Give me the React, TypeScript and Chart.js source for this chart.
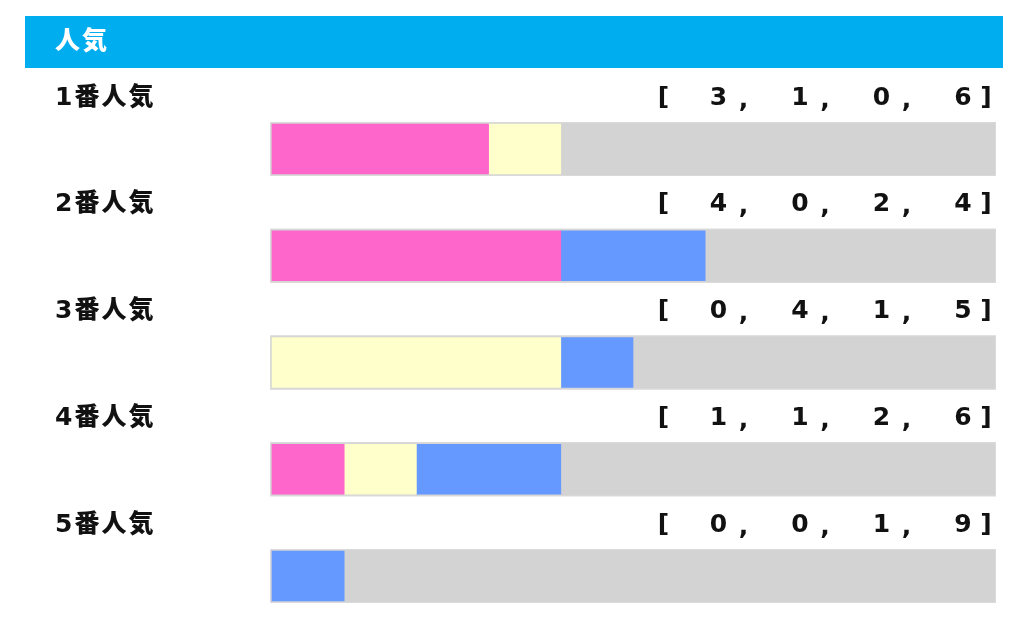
import React, { useEffect, useRef } from "react";
import { Chart, registerables } from "chart.js";

Chart.register(...registerables);

const headerTitle = "人気";
const rowLabels = ["1番人気", "2番人気", "3番人気", "4番人気", "5番人気"];
const firstPlace = [3, 4, 0, 1, 0];
const secondPlace = [1, 0, 4, 1, 0];
const thirdPlace = [0, 2, 1, 2, 1];
const otherPlace = [6, 4, 5, 6, 9];
const totalRuns = 10;

const PINK = "#FF66CC";
const YELLOW = "#FFFFCC";
const BLUE = "#6699FF";
const GRAY = "#D3D3D3";
const HEADER = "#00AEEF";

const FONT_STACK = '"DejaVu Sans", "Noto Sans CJK JP", sans-serif';

const overlayPlugin = {
  id: "overlay",
  beforeDatasetsDraw(chart: any) {
    const ctx = chart.ctx as CanvasRenderingContext2D;
    const xs = chart.scales.x;
    const ys = chart.scales.y;
    ctx.save();
    // header band
    ctx.fillStyle = HEADER;
    ctx.fillRect(25, 16, 978, 52);
    ctx.fillStyle = "#FFFFFF";
    ctx.font = `900 25px ${FONT_STACK}`;
    ctx.textBaseline = "middle";
    ctx.textAlign = "left";
    (ctx as any).letterSpacing = "2px";
    ctx.fillText(headerTitle, 55, 42);

    const x0 = xs.getPixelForValue(0);
    const x1 = xs.getPixelForValue(totalRuns);
    rowLabels.forEach((label, i) => {
      const yc = ys.getPixelForValue(i);
      // track
      ctx.fillStyle = GRAY;
      ctx.fillRect(x0 - 2, yc - 27, x1 - x0 + 4, 54);
      ctx.strokeStyle = "#DADADA";
      ctx.lineWidth = 1;
      ctx.strokeRect(x0 - 1.5, yc - 26.5, x1 - x0 + 3, 53);

      const ty = yc - 51;
      // row label
      ctx.fillStyle = "#111111";
      ctx.font = `900 25px ${FONT_STACK}`;
      ctx.textAlign = "left";
      (ctx as any).letterSpacing = "2px";
      ctx.fillText(label, 55, ty);
      (ctx as any).letterSpacing = "0px";

      // bracket values
      const vals = [firstPlace[i], secondPlace[i], thirdPlace[i], otherPlace[i]];
      const lastCenter = 963;
      const step = 81.5;
      ctx.font = `bold 25px ${FONT_STACK}`;
      ctx.textAlign = "center";
      const firstCenter = lastCenter - 3 * step;
      ctx.fillText("[", firstCenter - 55, ty);
      vals.forEach((v, k) => {
        const cx = firstCenter + k * step;
        ctx.fillText(String(v), cx, ty);
        if (k < vals.length - 1) ctx.fillText(",", cx + 25, ty + 2);
      });
      ctx.fillText("]", lastCenter + 23, ty);
    });
    ctx.restore();
  },
};

const colorFor = (color: string) => (c: any) => (c.raw === 0 ? "rgba(0,0,0,0)" : color);

export default function App() {
  const canvasRef = useRef<HTMLCanvasElement | null>(null);

  useEffect(() => {
    if (!canvasRef.current) return;
    const common = { barThickness: 50, borderWidth: 0, clip: false as any };
    const chart = new Chart(canvasRef.current, {
      type: "bar",
      data: {
        labels: rowLabels,
        datasets: [
          { label: "1着", data: firstPlace, backgroundColor: colorFor(PINK), ...common },
          { label: "2着", data: secondPlace, backgroundColor: colorFor(YELLOW), ...common },
          { label: "3着", data: thirdPlace, backgroundColor: colorFor(BLUE), ...common },
          { label: "着外", data: otherPlace, backgroundColor: colorFor(GRAY), ...common },
        ],
      },
      options: {
        indexAxis: "y",
        responsive: false,
        animation: false,
        devicePixelRatio: 1,
        layout: { padding: { left: 272, right: 30, top: 149, bottom: 42 } },
        plugins: {
          legend: { display: false },
          tooltip: { enabled: false },
          title: { display: false },
        },
        scales: {
          x: { type: "linear", stacked: true, min: 0, max: totalRuns, display: false },
          y: { type: "category", stacked: true, offset: false, display: false },
        },
      },
      plugins: [overlayPlugin],
    });
    return () => chart.destroy();
  }, []);

  return (
    <div style={{ position: "absolute", left: 0, top: 0, width: 1024, height: 618, background: "#fff" }}>
      <canvas ref={canvasRef} width={1024} height={618} style={{ width: 1024, height: 618, display: "block" }} />
    </div>
  );
}
